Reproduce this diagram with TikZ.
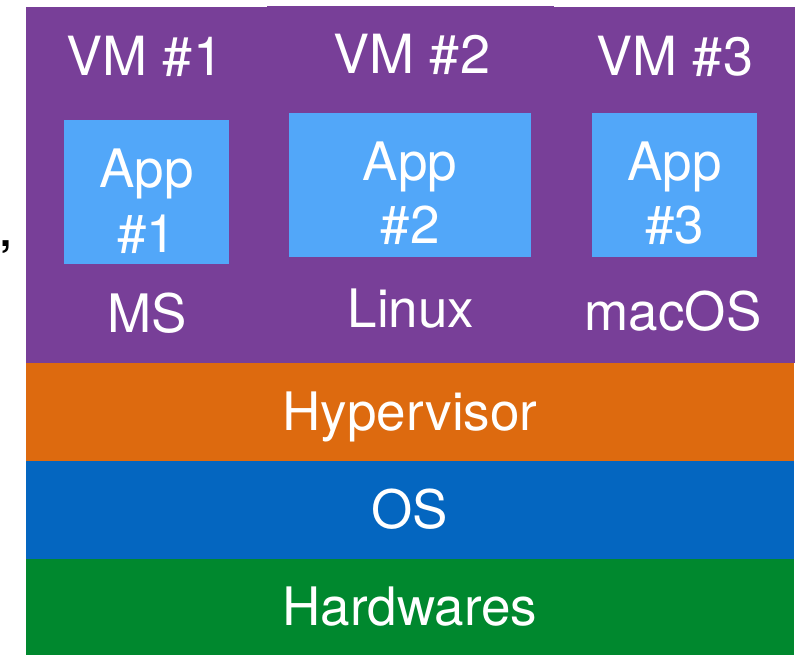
\documentclass[tikz,border=0pt]{standalone}
\usepackage{fontspec}
\setmainfont{TeX Gyre Heros}
\definecolor{vmpurple}{HTML}{783F98}
\definecolor{apppblue}{HTML}{52A7F9}
\definecolor{hyperorange}{HTML}{DD6A0F}
\definecolor{osblue}{HTML}{0466C0}
\definecolor{hwgreen}{HTML}{00882E}
\tikzset{
  block/.style={draw=none, inner sep=0pt, outer sep=0pt, anchor=north west},
  lbl/.style={text=white, inner sep=0pt, anchor=base, font=\fontsize{53}{63}\selectfont},
  vmlbl/.style={lbl, font=\fontsize{54}{64}\selectfont},
}
\begin{document}
\begin{tikzpicture}[x=1pt, y=-1pt]
  \useasboundingbox (0,0) rectangle (801,654);
  % virtual machine columns
  \node[block, fill=vmpurple, minimum width=242, minimum height=356] (vm1) at (26,7) {};
  \node[block, fill=vmpurple, minimum width=287, minimum height=357] (vm2) at (267,6) {};
  \node[block, fill=vmpurple, minimum width=242, minimum height=356] (vm3) at (553,7) {};
  % stacked layers
  \node[block, fill=hyperorange, minimum width=768, minimum height=98.5] (hyper) at (26,362.5) {};
  \node[block, fill=osblue, minimum width=768, minimum height=98.5] (os) at (26,460.5) {};
  \node[block, fill=hwgreen, minimum width=768, minimum height=96] (hw) at (26,558.5) {};
  % applications
  \node[block, fill=apppblue, minimum width=165, minimum height=144] (app1) at (64,120) {};
  \node[block, fill=apppblue, minimum width=242, minimum height=144] (app2) at (289,113) {};
  \node[block, fill=apppblue, minimum width=165, minimum height=144] (app3) at (592,113) {};
  % labels
  \node[vmlbl] (vm1t) at (145,75) {VM \#1};
  \node[vmlbl] (vm2t) at (412,73) {VM \#2};
  \node[vmlbl] (vm3t) at (675,75) {VM \#3};
  \node[lbl] (app1a) at (146.5,187) {App};
  \node[lbl] (app1b) at (146.5,252) {\#1};
  \node[lbl] (app2a) at (410,180) {App};
  \node[lbl] (app2b) at (410,243) {\#2};
  \node[lbl] (app3a) at (674.5,180) {App};
  \node[lbl] (app3b) at (674.5,243) {\#3};
  \node[lbl] (ms) at (147,332) {MS};
  \node[lbl] (linux) at (411,327) {Linux};
  \node[lbl] (macos) at (673,330) {macOS};
  \node[lbl] (hypert) at (410,430) {Hypervisor};
  \node[lbl] (ost) at (410,528) {OS};
  \node[lbl] (hwt) at (410,625) {Hardwares};
  % stray comma at the left margin
  \node[inner sep=0pt, anchor=base, font=\fontsize{40}{48}\bfseries\selectfont] (comma) at (6,246) {,};
\end{tikzpicture}
\end{document}
